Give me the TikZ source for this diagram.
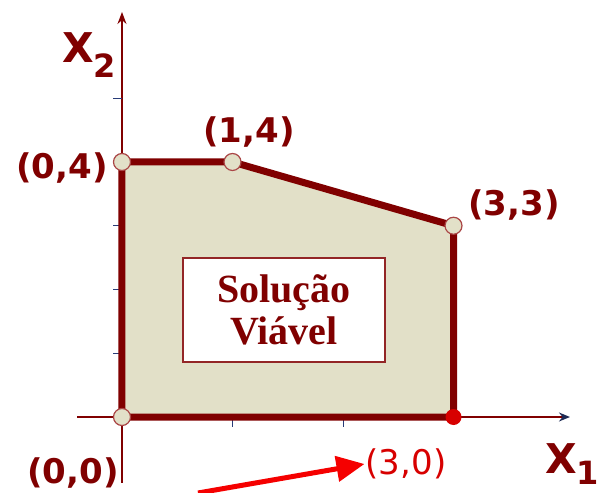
\documentclass[tikz,border=0pt]{standalone}
\usepackage{fontspec}
\setmainfont{Liberation Serif}
\newfontfamily\lblfont{DejaVu Sans}
\usetikzlibrary{arrows.meta,positioning}
\definecolor{regionred}{RGB}{128,0,0}
\definecolor{regionfill}{RGB}{226,224,200}
\definecolor{tickblue}{RGB}{40,60,120}
\definecolor{pointedge}{RGB}{170,70,70}
\definecolor{arrowred}{RGB}{245,0,0}
\definecolor{labelred}{RGB}{215,0,0}

\begin{document}
\begin{tikzpicture}[
  x=110.5pt, y=63.75pt,
  axis/.style={draw=regionred, line width=1.4pt},
  tickmark/.style={draw=tickblue, line width=1pt},
  edge/.style={draw=regionred, line width=7pt, line join=round},
  vtx/.style={circle, draw=pointedge, fill=regionfill, line width=1.2pt, minimum size=17pt, inner sep=0pt},
  corner/.style={font=\lblfont\bfseries\fontsize{34}{36}\selectfont, text=regionred, inner sep=1pt},
  axlbl/.style={font=\lblfont\bfseries\fontsize{41}{41}\selectfont, text=regionred, inner sep=0pt, anchor=base west}
]
\useasboundingbox (-1.104,-1.192) rectangle (4.380,6.541);

% axes and ticks
\coordinate (origin) at (0,0);
\coordinate (xstart) at (-0.407,0);
\coordinate (xend) at (4.054,0);
\coordinate (ystart) at (0,-1.035);
\coordinate (yend) at (0,6.353);
\draw[axis, -{Stealth[length=11pt,width=9pt,color=tickblue!70!black]}] (xstart) -- (xend);
\draw[axis, -{Stealth[length=12pt,width=9pt]}] (ystart) -- (yend);
\foreach \k in {1,2,3,5} \draw[tickmark] (0,\k) -- ++(-9pt,0);
\foreach \k in {1,2} \draw[tickmark] (\k,0) -- ++(0,-10pt);

% feasible region
\coordinate (p00) at (0,0);
\coordinate (p04) at (0,4);
\coordinate (p14) at (1,4);
\coordinate (p33) at (3,3);
\coordinate (p30) at (3,0);
\fill[regionfill] (p00) -- (p04) -- (p14) -- (p33) -- (p30) -- cycle;
\draw[edge] (p00) -- (p04) -- (p14) -- (p33) -- (p30) -- cycle;

\node[vtx] (c00) at (p00) {};
\node[vtx] (c04) at (p04) {};
\node[vtx] (c14) at (p14) {};
\node[vtx] (c33) at (p33) {};
\node[circle, fill=labelred, minimum size=16pt, inner sep=0pt] (c30) at (p30) {};

% corner labels
\node[corner] (l04) at (-0.543,3.906) {(0,4)};
\node[corner] (l14) at (1.149,4.471) {(1,4)};
\node[corner] (l33) at (3.548,3.325) {(3,3)};
\node[corner] (l00) at (-0.443,-0.878) {(0,0)};
\node[corner, font=\lblfont\fontsize{34}{36}\selectfont, text=labelred] (l30) at (2.570,-0.737) {(3,0)};

% axis names
\node[axlbl] (xtwo) at (-0.543,5.553) {X\raisebox{-15pt}{\fontsize{32}{32}\selectfont 2}};
\node[axlbl] (xone) at (3.828,-0.890) {X\raisebox{-11pt}{\fontsize{32}{32}\selectfont 1}};

% box
\node[draw=regionred!85!white, line width=1.5pt, fill=white, minimum width=202pt, minimum height=104pt,
      align=center, text=regionred, font=\bfseries\fontsize{40}{42}\selectfont] (sol) at (1.466,1.678) {Solução\\Viável};

% pointer
\coordinate (tail) at (0.688,-1.192);
\draw[arrowred, line width=5pt, -{Triangle[length=28pt,width=25pt]}] (tail) -- (l30.west);
\end{tikzpicture}
\end{document}
